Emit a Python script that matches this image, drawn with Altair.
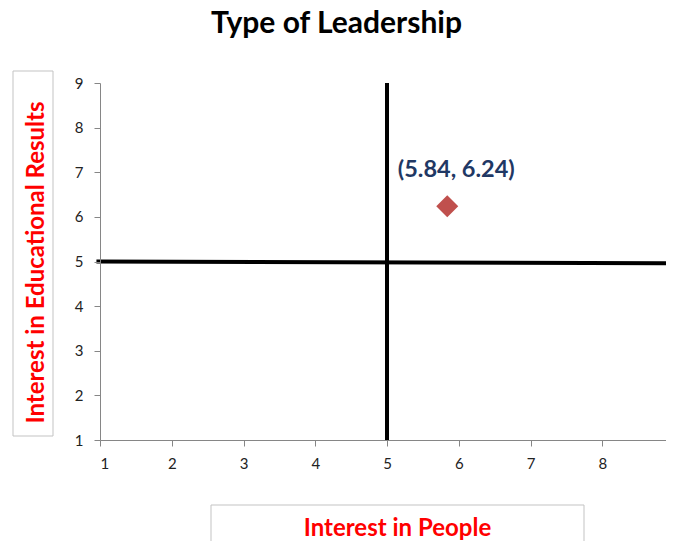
import altair as alt
import pandas as pd

# data
point_x = [5.84]
point_y = [6.24]
point_label = ["(5.84, 6.24)"]
vline_x = [5, 5]
vline_y = [1, 9]
hline_x = [0.95, 9]
hline_y = [5.0, 4.96]
ticks = [1, 2, 3, 4, 5, 6, 7, 8, 9]

FONT = "Lato"

pts = pd.DataFrame({"x": point_x, "y": point_y, "label": point_label})
vdf = pd.DataFrame({"x": vline_x, "y": vline_y})
hdf = pd.DataFrame({"x": hline_x, "y": hline_y})

xs = alt.Scale(domain=[1, 9], nice=False, zero=False, range=[0, 574])
ys = alt.Scale(domain=[1, 9], nice=False, zero=False)

x_axis = alt.Axis(
    values=ticks, grid=False, format="d", title="Interest in People",
    titleX=297, titleY=88, titleAlign="center", titleBaseline="middle",
    titleColor="#ff0000", titleFont=FONT, titleFontSize=24, titleFontWeight="bold",
    labelPadding=10, zindex=1,
)
y_axis = alt.Axis(
    values=ticks, grid=False, format="d", title="Interest in Educational Results",
    titleX=-64, titleY=179, titleAngle=270, titleAlign="center", titleBaseline="middle",
    titleColor="#ff0000", titleFont=FONT, titleFontSize=24, titleFontWeight="bold",
    labelPadding=11, zindex=1,
)

base = alt.Chart(pts)

# title boxes
ybox = base.mark_rect(fillOpacity=0, stroke="#c3c3c3", strokeWidth=1).encode(
    x=alt.value(-87), x2=alt.value(-47), y=alt.value(-12), y2=alt.value(353)
)
xbox = base.mark_rect(fillOpacity=0, stroke="#c3c3c3", strokeWidth=1).encode(
    x=alt.value(111), x2=alt.value(484), y=alt.value(422), y2=alt.value(470)
)

vline = alt.Chart(vdf).mark_line(color="black", strokeWidth=4).encode(
    x=alt.X("x:Q", scale=xs, axis=x_axis),
    y=alt.Y("y:Q", scale=ys, axis=y_axis),
)
hline = alt.Chart(hdf).mark_line(color="black", strokeWidth=4).encode(
    x=alt.X("x:Q", scale=xs),
    y=alt.Y("y:Q", scale=ys),
)
point = base.mark_point(shape="diamond", filled=True, size=484, color="#c0504d", opacity=1).encode(
    x=alt.X("x:Q", scale=xs),
    y=alt.Y("y:Q", scale=ys),
)
label = base.mark_text(
    dx=9, dy=-36, font=FONT, fontSize=23.5, fontWeight="bold", color="#1f3864"
).encode(
    x=alt.X("x:Q", scale=xs),
    y=alt.Y("y:Q", scale=ys),
    text="label:N",
)
title = base.mark_text(
    font=FONT, fontSize=30, fontWeight="bold", color="black", baseline="alphabetic"
).encode(
    x=alt.value(236.5), y=alt.value(-50), text=alt.value("Type of Leadership")
)

chart = alt.layer(ybox, xbox, vline, hline, point, label, title).properties(
    width=566, height=357,
    autosize=alt.AutoSizeParams(type="none"),
    padding={"left": 92, "top": 75, "right": 0, "bottom": 101},
).configure_view(stroke=None).configure_axis(
    domainColor="#868686", tickColor="#868686", tickSize=6,
    labelFont=FONT, labelFontSize=15, labelColor="#222222",
)

chart.save("out.html", embed_options={"renderer": "svg", "actions": False})
